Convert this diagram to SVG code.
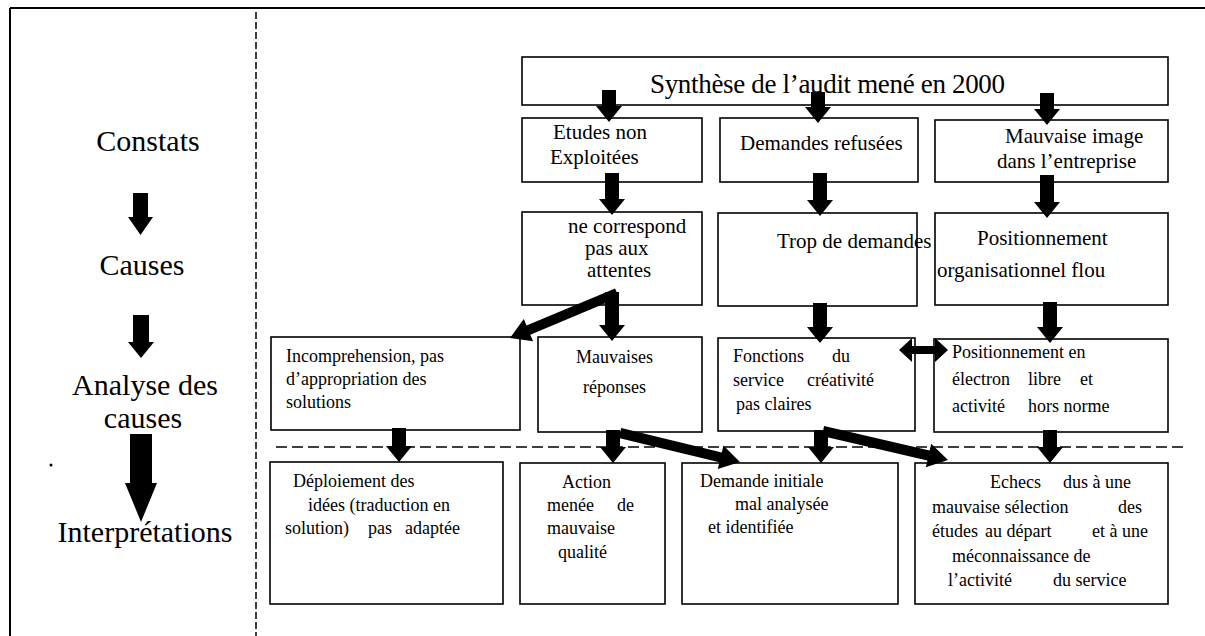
<svg xmlns="http://www.w3.org/2000/svg" width="1205" height="636" viewBox="0 0 1205 636">
<style>
text{font-family:"Liberation Serif","Times New Roman",serif;fill:#000}
.lab{font-size:30px;text-anchor:middle}
.ttl{font-size:27px}
.t1{font-size:21px}
.t2{font-size:18px}
.box{fill:#fff;stroke:#000;stroke-width:1.6}
.arr{fill:#000}
.dash{stroke:#000;stroke-width:1.5;fill:none}
</style>
<rect width="1205" height="636" fill="#fff"/>
<g id="frame">
<line x1="10" y1="8" x2="1205" y2="8" stroke="#000" stroke-width="2"/>
<line x1="10" y1="8" x2="10" y2="636" stroke="#000" stroke-width="2"/>
<line class="dash" x1="256" y1="12" x2="256" y2="636" stroke-dasharray="7 3"/>
<line class="dash" x1="276" y1="447" x2="1183" y2="447" stroke-dasharray="11 5"/>
<circle cx="51" cy="465" r="1.5" fill="#000"/>
</g>
<g id="legend">
<text class="lab" x="148" y="151">Constats</text>
<text class="lab" x="142" y="275">Causes</text>
<text class="lab" x="145" y="395">Analyse des</text>
<text class="lab" x="143" y="428">causes</text>
<text class="lab" x="145" y="542">Interprétations</text>
<path class="arr" d="M133,193 H148 V217 H153 L140.5,235 L128,217 H133 Z"/>
<path class="arr" d="M133,315 H149 V342 H154 L141,358 L128,342 H133 Z"/>
<path class="arr" d="M130,434 H152 V483 H157 L141,522 L125,483 H130 Z"/>
</g>
<g id="n-synthese"><rect class="box" x="522" y="57" width="646" height="48"/><text class="ttl" x="650" y="93" textLength="355">Synthèse de l’audit mené en 2000</text></g>
<g id="n-etudes"><rect class="box" x="522" y="118" width="180" height="64"/><text class="t1" x="553" y="139">Etudes non</text><text class="t1" x="550" y="164">Exploitées</text></g>
<g id="n-demandes"><rect class="box" x="720" y="118" width="198" height="64"/><text class="t1" x="740" y="150">Demandes refusées</text></g>
<g id="n-image"><rect class="box" x="935" y="120" width="233" height="62"/><text class="t1" x="1005" y="143">Mauvaise image</text><text class="t1" x="997" y="168">dans l’entreprise</text></g>
<g id="n-correspond"><rect class="box" x="522" y="212" width="180" height="93"/><text class="t1" x="568" y="233">ne correspond</text><text class="t1" x="585" y="255">pas aux</text><text class="t1" x="587" y="277">attentes</text></g>
<g id="n-trop"><rect class="box" x="718" y="213" width="199" height="93"/><text class="t1" x="777" y="248">Trop de demandes</text></g>
<g id="n-posorg"><rect class="box" x="935" y="213" width="233" height="92"/><text class="t1" x="977" y="245">Positionnement</text><text class="t1" x="937" y="277">organisationnel flou</text></g>
<g id="n-incomp"><rect class="box" x="271" y="337" width="249" height="93"/><text class="t2" x="286" y="362">Incomprehension, pas</text><text class="t2" x="286" y="385">d’appropriation des</text><text class="t2" x="286" y="408">solutions</text></g>
<g id="n-mauvrep"><rect class="box" x="538" y="337" width="164" height="95"/><text class="t2" x="576" y="363">Mauvaises</text><text class="t2" x="583" y="393">réponses</text></g>
<g id="n-fonctions"><rect class="box" x="718" y="338" width="197" height="93"/><text class="t2" y="362"><tspan x="733">Fonctions</tspan><tspan x="832">du</tspan></text><text class="t2" y="386"><tspan x="733">service</tspan><tspan x="807">créativité</tspan></text><text class="t2" x="736" y="410">pas claires</text></g>
<g id="n-electron"><rect class="box" x="934" y="339" width="234" height="93"/><text class="t2" x="952" y="358">Positionnement en</text><text class="t2" y="385"><tspan x="952">électron</tspan><tspan x="1028">libre</tspan><tspan x="1080">et</tspan></text><text class="t2" y="412"><tspan x="952">activité</tspan><tspan x="1028">hors norme</tspan></text></g>
<g id="n-deploiement"><rect class="box" x="270" y="462" width="233" height="142"/><text class="t2" x="293" y="487">Déploiement des</text><text class="t2" x="308" y="511">idées (traduction en</text><text class="t2" y="534"><tspan x="285">solution)</tspan><tspan x="368">pas</tspan><tspan x="405">adaptée</tspan></text></g>
<g id="n-action"><rect class="box" x="520" y="463" width="145" height="141"/><text class="t2" x="562" y="488">Action</text><text class="t2" y="511"><tspan x="547">menée</tspan><tspan x="617">de</tspan></text><text class="t2" x="547" y="534">mauvaise</text><text class="t2" x="558" y="558">qualité</text></g>
<g id="n-demande"><rect class="box" x="682" y="463" width="216" height="141"/><text class="t2" x="700" y="487">Demande initiale</text><text class="t2" x="735" y="510">mal analysée</text><text class="t2" x="708" y="533">et identifiée</text></g>
<g id="n-echecs"><rect class="box" x="915" y="463" width="253" height="141"/><text class="t2" y="488"><tspan x="990">Echecs</tspan><tspan x="1063">dus à une</tspan></text><text class="t2" y="513"><tspan x="932">mauvaise sélection</tspan><tspan x="1118">des</tspan></text><text class="t2" y="537"><tspan x="932">études</tspan><tspan x="985">au départ</tspan><tspan x="1092">et à une</tspan></text><text class="t2" x="952" y="562">méconnaissance de</text><text class="t2" y="586"><tspan x="948">l’activité</tspan><tspan x="1053">du service</tspan></text></g>
<g id="connectors">
<path class="arr" d="M602,90 H616 V106 H622 L609,122 L596,106 H602 Z"/>
<path class="arr" d="M811,92 H825 V107 H831 L818,123 L805,107 H811 Z"/>
<path class="arr" d="M1040,93 H1054 V109 H1060 L1047,125 L1034,109 H1040 Z"/>
<path class="arr" d="M605,173 H619 V199 H625 L612,215 L599,199 H605 Z"/>
<path class="arr" d="M813,173 H827 V200 H833 L820,216 L807,200 H813 Z"/>
<path class="arr" d="M1040,175 H1054 V202 H1060 L1047,218 L1034,202 H1040 Z"/>
<path class="arr" d="M605,292 H619 V325 H625 L612,341 L599,325 H605 Z"/>
<path class="arr" d="M813,303 H827 V327 H833 L820,343 L807,327 H813 Z"/>
<path class="arr" d="M1043,302 H1057 V327 H1063 L1050,343 L1037,327 H1043 Z"/>
<path class="arr" d="M392,428 H406 V446 H412 L399,462 L386,446 H392 Z"/>
<path class="arr" d="M606,430 H620 V447 H626 L613,463 L600,447 H606 Z"/>
<path class="arr" d="M814,430 H828 V447 H834 L821,463 L808,447 H814 Z"/>
<path class="arr" d="M1043,430 H1057 V447 H1063 L1050,463 L1037,447 H1043 Z"/>
<path class="arr" d="M615.1,288.4 L526.5,325.6 L523.8,319.1 L510,338 L533.1,341.3 L530.3,334.8 L618.9,297.6 Z"/>
<path class="arr" d="M621.2,428.1 L721.8,452.4 L723.4,445.6 L740,462 L717.8,469 L719.4,462.2 L618.8,437.9 Z"/>
<path class="arr" d="M824.1,426.1 L929.6,450.6 L931.2,443.8 L948,460 L925.8,467.2 L927.4,460.4 L821.9,435.9 Z"/>
<path class="arr" d="M899,350 L912,338 V346 H935 V338 L948,350 L935,362 V354 H912 V362 Z"/>
</g>
</svg>
